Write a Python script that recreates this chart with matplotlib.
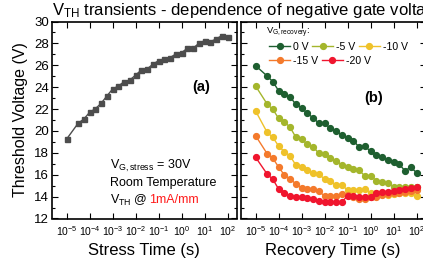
import matplotlib

matplotlib.use("Agg")
import matplotlib.pyplot as plt

plt.rcParams["font.family"] = ["Liberation Sans", "DejaVu Sans"]
plt.rcParams["mathtext.default"] = "regular"

# log10 of time (s), shared by both panels
LOG_T = [-5, -4.5, -4.25, -4, -3.75, -3.5, -3.25, -3, -2.75, -2.5, -2.25, -2, -1.75, -1.5,
         -1.25, -1, -0.75, -0.5, -0.25, 0, 0.25, 0.5, 0.75, 1, 1.25, 1.5, 1.75, 2]
T = [10.0 ** e for e in LOG_T]

stress_vth = [19.26, 20.7, 21.09, 21.7, 22.03, 22.52, 23.19, 23.83, 24.1, 24.5, 24.65, 25.1,
              25.57, 25.66, 26.09, 26.42, 26.57, 26.7, 27.03, 27.15, 27.55, 27.55, 28.0,
              28.25, 28.15, 28.4, 28.7, 28.56]

recovery_labels = ["0 V", "-5 V", "-10 V", "-15 V", "-20 V"]
recovery_colors = ["#1e5f30", "#a4b62c", "#efc22a", "#f47a2c", "#f0152e"]
rec_0 = [25.96, 25.02, 24.5, 23.67, 23.34, 23.1, 22.43, 22.12, 21.6, 21.2, 20.7, 20.72, 20.24,
         19.99, 19.6, 19.38, 19.12, 18.53, 18.62, 18.13, 17.8, 17.64, 17.37, 17.2, 16.96,
         16.35, 16.7, 16.18]
rec_5 = [24.1, 22.46, 21.97, 21.15, 20.84, 20.33, 19.42, 19.23, 18.8, 18.56, 17.95, 17.89,
         17.5, 17.28, 16.88, 16.73, 16.49, 16.43, 15.88, 15.88, 15.45, 15.3, 15.27, 14.9,
         14.9, 14.9, 14.9, 14.9]
rec_10 = [21.82, 19.87, 19.41, 18.62, 18.1, 17.71, 16.88, 16.67, 16.43, 16.12, 16.03, 15.62,
          15.45, 15.02, 15.05, 14.6, 14.6, 14.6, 14.66, 14.3, 14.35, 14.2, 14.14, 14.2, 14.3,
          14.35, 14.3, 14.05]
rec_15 = [19.56, 17.92, 17.5, 16.7, 15.97, 15.62, 15.16, 14.8, 14.7, 14.7, 14.48, 14.06,
          14.02, 14.06, 14.2, 14.14, 14.0, 13.75, 13.75, 13.99, 14.0, 14.14, 14.2, 14.3,
          14.35, 14.44, 14.53, 14.6]
rec_20 = [17.59, 16.06, 15.58, 14.69, 14.3, 14.08, 13.99, 13.99, 13.9, 13.75, 13.6, 13.5,
          13.53, 13.53, 13.53, 14.05, 14.05, 14.0, 13.93, 14.0, 14.3, 14.44, 14.44, 14.53,
          14.6, 14.66, 14.75, 14.84]
recovery = [rec_0, rec_5, rec_10, rec_15, rec_20]

W, H = 423, 264
fig = plt.figure(figsize=(W / 100, H / 100), dpi=100)


def px_axes(x0, x1, y0, y1):
    return fig.add_axes([x0 / W, 1 - y1 / H, (x1 - x0) / W, (y1 - y0) / H])


ax_a = px_axes(51.7, 236.7, 21.5, 218.5)
ax_b = px_axes(240.7, 425.7, 21.5, 218.5)

for ax in (ax_a, ax_b):
    ax.set_xscale("log")
    ax.set_xlim(10 ** -5.65, 10 ** 2.4)
    ax.set_ylim(12, 30)
    ax.set_yticks(range(12, 31, 2))
    ax.set_yticks(range(12, 31), minor=True)
    ax.set_xticks([10.0 ** e for e in range(-5, 3)])
    ax.tick_params(which="both", direction="in", top=True, right=True, width=0.8)
    ax.tick_params(which="major", length=4)
    ax.tick_params(which="minor", length=2)
    ax.tick_params(axis="x", labelsize=7.5, pad=4)
    ax.tick_params(axis="y", labelsize=9.5, pad=2)
    for s in ax.spines.values():
        s.set_linewidth(1.2)

# (a) stress
ax_a.plot(T, stress_vth, "-s", color="#4d4d4d", ms=3.6, lw=1.0)
ax_a.set_xlabel("Stress Time (s)", fontsize=12, labelpad=4)
ax_a.set_ylabel("Threshold Voltage (V)", fontsize=11.5, labelpad=4)
ax_a.text(0.81, 0.667, "(a)", transform=ax_a.transAxes, fontsize=10.5, fontweight="bold",
          ha="center", va="center")
ax_a.text(0.315, 0.265, "V$_{G,stress}$ = 30V", transform=ax_a.transAxes, fontsize=9,
          va="center")
ax_a.text(0.315, 0.180, "Room Temperature", transform=ax_a.transAxes, fontsize=9, va="center")
t_vth = ax_a.text(0.315, 0.094, "V$_{TH}$ @ ", transform=ax_a.transAxes, fontsize=9,
                  va="center")
fig.canvas.draw()
bb = t_vth.get_window_extent().transformed(ax_a.transAxes.inverted())
ax_a.text(bb.x1, 0.094, "1mA/mm", transform=ax_a.transAxes, fontsize=9, va="center",
          color="#ff1a1a")

# (b) recovery
lines = []
for vals, lab, col in zip(recovery, recovery_labels, recovery_colors):
    ln, = ax_b.plot(T, vals, "-o", color=col, ms=4.2, lw=1.0, label=lab)
    lines.append(ln)
ax_b.set_yticklabels([])
ax_b.set_xlabel("Recovery Time (s)", fontsize=12, labelpad=4)
ax_b.text(0.72, 0.61, "(b)", transform=ax_b.transAxes, fontsize=10.5, fontweight="bold",
          ha="center", va="center")

# legend: title + two rows (0, -5, -10 V) and (-15, -20 V)
ax_b.text(0.137, 0.942, "V$_{G,recovery}$:", transform=ax_b.transAxes, fontsize=6.8,
          va="center")
leg_kw = dict(loc="center left", frameon=False, fontsize=7.6, handlelength=2.0,
              handletextpad=0.3, borderpad=0, borderaxespad=0)
leg1 = ax_b.legend(lines[:3], recovery_labels[:3], ncol=3, bbox_to_anchor=(0.153, 0.873),
                   columnspacing=0.3, **leg_kw)
ax_b.add_artist(leg1)
ax_b.legend(lines[3:], recovery_labels[3:], ncol=2, bbox_to_anchor=(0.153, 0.80),
            columnspacing=0.3, **leg_kw)

fig.text(51.7 / W, 1 - 0.5 / H, "V$_{TH}$ transients - dependence of negative gate voltage",
         fontsize=12.0, ha="left", va="top")

fig.savefig("out.png", dpi=100)
